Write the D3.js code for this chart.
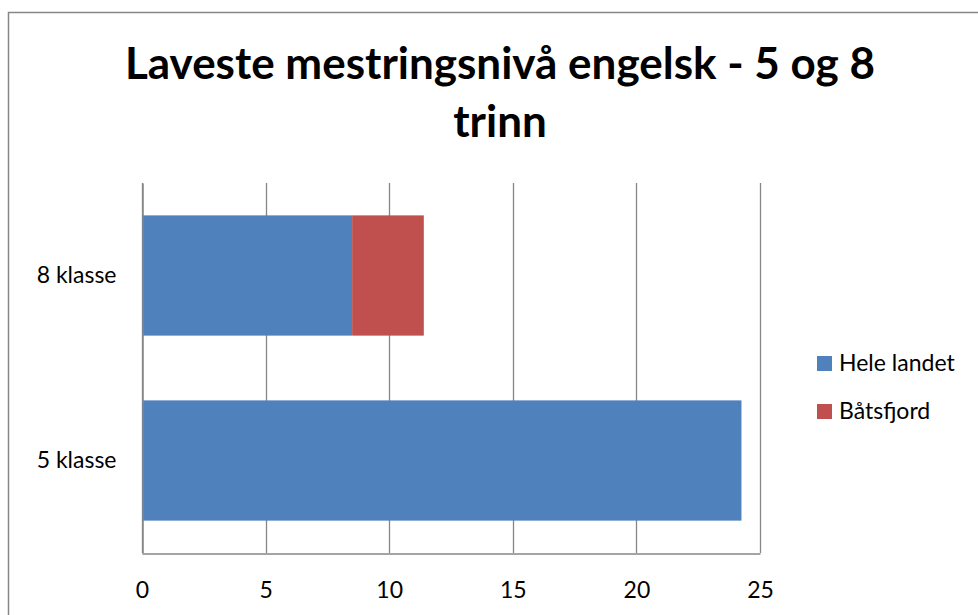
<!DOCTYPE html>
<html>
<head>
<meta charset="utf-8">
<script src="https://cdn.jsdelivr.net/npm/d3@7"></script>
<style>
  body { margin: 0; background: #fff; }
  text { font-family: Lato, "Open Sans", sans-serif; fill: #000; }
</style>
</head>
<body>
<script>
// data
var categories = ["8 klasse", "5 klasse"];
var seriesNames = ["Hele landet", "Båtsfjord"];
var heleLandet = [8.5, 24.25];
var batsfjord = [2.9, 0];
var xTicks = [0, 5, 10, 15, 20, 25];
var colors = ["#4F81BD", "#C0504D"];

var w = 978, h = 615;
var svg = d3.select("body").append("svg").attr("width", w).attr("height", h);

// outer chart border (runs off the canvas right and bottom)
svg.append("rect")
  .attr("x", 8.5).attr("y", 12.5)
  .attr("width", 1000).attr("height", 700)
  .attr("fill", "#fff")
  .attr("stroke", "#868686")
  .attr("stroke-width", 1.5);

// title
var title = svg.append("text")
  .attr("text-anchor", "middle")
  .style("font-weight", "bold")
  .style("font-size", "44px");
title.append("tspan").attr("x", 500).attr("y", 79).text("Laveste mestringsnivå engelsk - 5 og 8");
title.append("tspan").attr("x", 500).attr("y", 137).text("trinn");

var pLeft = 142, pRight = 760, pTop = 183, pBottom = 553;

var xScale = d3.scaleLinear().domain([0, 25]).range([pLeft, pRight]);
var yScale = d3.scaleBand().domain(categories).range([pTop, pBottom])
  .paddingInner(0.35).paddingOuter(0.175);

// gridlines
svg.append("g").selectAll("line")
  .data(xTicks)
  .enter()
  .append("line")
  .attr("x1", function(d) { return Math.round(xScale(d)) + 0.5; })
  .attr("x2", function(d) { return Math.round(xScale(d)) + 0.5; })
  .attr("y1", pTop)
  .attr("y2", pBottom)
  .attr("stroke", "#868686")
  .attr("stroke-width", 1.3);

// stacked bars
var rows = categories.map(function(c, i) {
  return { cat: c, "Hele landet": heleLandet[i], "Båtsfjord": batsfjord[i] };
});
var stacked = d3.stack().keys(seriesNames)(rows);

svg.append("g").selectAll("g")
  .data(stacked)
  .enter()
  .append("g")
  .attr("fill", function(d, i) { return colors[i]; })
  .selectAll("rect")
  .data(function(d) { return d; })
  .enter()
  .append("rect")
  .attr("x", function(d) { return xScale(d[0]); })
  .attr("width", function(d) { return xScale(d[1]) - xScale(d[0]); })
  .attr("y", function(d) { return yScale(d.data.cat); })
  .attr("height", yScale.bandwidth());

// X axis
var xAxis = d3.axisBottom(xScale).tickValues(xTicks).tickSize(0).tickPadding(28);
var gx = svg.append("g")
  .attr("transform", "translate(0," + (pBottom + 0.5) + ")")
  .call(xAxis);
gx.select(".domain").attr("stroke", "#868686").attr("stroke-width", 1.5);
gx.selectAll("text").style("font-size", "23px");

// Y axis
var yAxis = d3.axisLeft(yScale).tickSize(0).tickPadding(26);
var gy = svg.append("g")
  .attr("transform", "translate(" + (pLeft + 0.5) + ",0)")
  .call(yAxis);
gy.select(".domain").attr("stroke", "#868686").attr("stroke-width", 1.5);
gy.selectAll("text").style("font-size", "23px");

// legend
var legend = svg.append("g").selectAll("g")
  .data(seriesNames)
  .enter()
  .append("g")
  .attr("transform", function(d, i) { return "translate(817," + (356 + i * 48) + ")"; });
legend.append("rect")
  .attr("width", 15).attr("height", 15)
  .attr("fill", function(d, i) { return colors[i]; });
legend.append("text")
  .attr("x", 22).attr("y", 15)
  .style("font-size", "23px")
  .text(function(d) { return d; });
</script>
</body>
</html>
